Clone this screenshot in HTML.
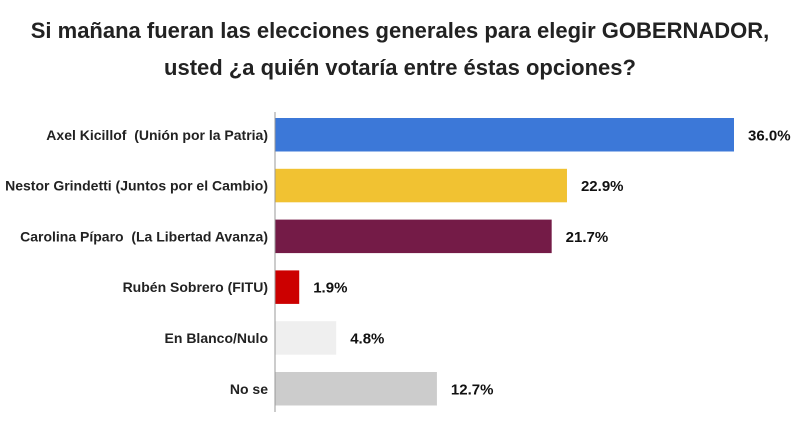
<!DOCTYPE html>
<html><head><meta charset="utf-8"><style>
body{margin:0;background:#fff;font-family:"Liberation Sans",Arial,sans-serif;}
#wrap{position:relative;width:800px;height:428px;overflow:hidden;background:#fff;}
h1{position:absolute;left:0;top:12px;width:800px;margin:0;text-align:center;font-size:22px;line-height:37px;font-weight:bold;color:#222;}
</style></head><body>
<div id="wrap">
<h1>Si mañana fueran las elecciones generales para elegir GOBERNADOR,<br>usted ¿a quién votaría entre éstas opciones?</h1>
<svg id="chart" width="800" height="428" style="position:absolute;left:0;top:0"></svg>
</div>
<script>
const categories=["Axel Kicillof  (Unión por la Patria)","Nestor Grindetti (Juntos por el Cambio)","Carolina Píparo  (La Libertad Avanza)","Rubén Sobrero (FITU)","En Blanco/Nulo","No se"];
const values=[36.0,22.9,21.7,1.9,4.8,12.7];
const valueLabels=["36.0%","22.9%","21.7%","1.9%","4.8%","12.7%"];
const colors=["#3c78d8","#f1c232","#741b47","#cc0000","#efefef","#cccccc"];
const NS="http://www.w3.org/2000/svg";
const svg=document.getElementById('chart');
const x0=275,pxPer=12.75,yTop=118,pitch=50.8,bh=33.5;
const xs=v=>x0+v*pxPer;
const ys=i=>yTop+i*pitch;
function mk(t,a){const e=document.createElementNS(NS,t);for(const k in a)e.setAttribute(k,a[k]);svg.appendChild(e);return e;}
categories.forEach((c,i)=>{
  const r=mk('rect',{x:x0,y:ys(i),width:xs(values[i])-x0,height:bh,fill:colors[i]});
  
  
  const l=mk('text',{x:268,y:ys(i)+bh/2+5,'text-anchor':'end','font-size':'14','font-weight':'bold',fill:'#222'});
  l.textContent=c;l.setAttribute('xml:space','preserve');l.style.whiteSpace='pre';
  
  
  const v=mk('text',{x:xs(values[i])+14,y:ys(i)+bh/2+5.5,'font-size':'15','font-weight':'bold',fill:'#111'});
  v.textContent=valueLabels[i];
  
  
});
const ax=mk('line',{x1:x0,x2:x0,y1:112,y2:412,stroke:'#999','stroke-width':1});


</script>
</body></html>
